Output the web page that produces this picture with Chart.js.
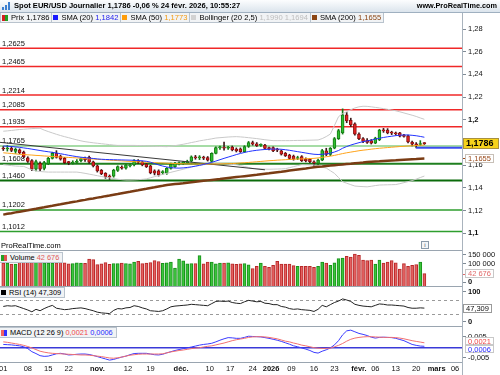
<!DOCTYPE html>
<html><head><meta charset="utf-8">
<script src="https://cdn.jsdelivr.net/npm/chart.js@4.4.1/dist/chart.umd.min.js"></script>
<style>
html,body{margin:0;padding:0;background:#fff;}
body{width:500px;height:375px;position:relative;overflow:hidden;font-family:"Liberation Sans",Arial,sans-serif;color:#000;}
canvas{position:absolute;left:0;display:block;}
#title{position:absolute;left:0;top:0;width:500px;height:12px;background:linear-gradient(#fcfdfe,#dbe4ec);border-bottom:1px solid #9fb0c0;}
#title .t{position:absolute;left:14px;top:1px;font-weight:bold;font-size:7.55px;line-height:10px;white-space:nowrap;}
#title .w{position:absolute;right:3px;top:1px;font-weight:bold;font-size:7.3px;line-height:10px;white-space:nowrap;}
#title .ico{position:absolute;left:2px;top:2px;width:9px;height:8px;}
#title .ico i{position:absolute;bottom:0;width:2px;background:#3b7fd0;}
.leg{position:absolute;left:0;top:13px;height:10px;display:flex;border-left:1px solid #b9c3cd;}
.cell{height:9px;border-bottom:1px solid #b9c3cd;border-right:1px solid #b9c3cd;background:#f1f3f5;font-size:7.6px;line-height:9px;white-space:nowrap;padding:0 2px 0 1px;display:flex;align-items:center;}
.ic{display:inline-block;width:5px;height:5px;margin-right:3px;box-sizing:border-box;}
.ic2{display:inline-flex;width:6px;height:6px;margin-right:3px;}
.ic2 b{display:block;width:3px;height:6px;}
.pl{position:absolute;left:0;height:9px;border:1px solid #b9c3cd;border-left:none;background:#f1f3f5;font-size:7.4px;line-height:9px;white-space:nowrap;padding:0 3px 0 1px;display:flex;align-items:center;}
.sep{position:absolute;left:0;width:462px;height:1px;background:#9aa5b0;}
#vaxis{position:absolute;left:462px;top:13px;width:1px;height:362px;background:#a9b3bd;}
#wm{position:absolute;left:1px;top:241px;font-size:7.5px;line-height:9px;}
#info{position:absolute;left:421px;top:241px;width:6px;height:6px;border:1px solid #8a9aaa;font-size:6px;line-height:6px;text-align:center;color:#456;background:#f4f6f8;}
</style></head>
<body>
<canvas id="cMain" width="500" height="237" style="top:13px"></canvas>
<canvas id="cVol" width="500" height="36" style="top:250px"></canvas>
<canvas id="cRsi" width="500" height="40" style="top:286px"></canvas>
<canvas id="cMacd" width="500" height="49" style="top:326px"></canvas>

<div id="title"><span class="ico"><i style="left:0;height:3px"></i><i style="left:3px;height:5px"></i><i style="left:6px;height:8px"></i></span><span class="t">Spot EUR/USD Journalier 1,1786 -0,06 % 24 févr. 2026, 10:55:27</span><span class="w">www.ProRealTime.com</span></div>
<div class="leg">
 <div class="cell"><span class="ic2"><b style="background:#d42020"></b><b style="background:#22a022"></b></span>Prix 1,1786</div>
 <div class="cell"><span class="ic" style="background:#1a1aff"></span>SMA (20)&nbsp;<span style="color:#2222ee">1,1842</span></div>
 <div class="cell"><span class="ic" style="background:#ff9d0a"></span>SMA (50)&nbsp;<span style="color:#f39a12">1,1773</span></div>
 <div class="cell"><span class="ic" style="background:#d2d2d2"></span>Bollinger (20 2,5)&nbsp;<span style="color:#bdbdbd">1,1990&nbsp;1,1694</span></div>
 <div class="cell"><span class="ic" style="background:#8b4513"></span>SMA (200)&nbsp;<span style="color:#8b4513">1,1655</span></div>
</div>
<div id="wm">ProRealTime.com</div>
<div id="info">i</div>
<div class="sep" style="top:250px"></div>
<div class="sep" style="top:286px"></div>
<div class="sep" style="top:326px"></div>
<div class="sep" style="top:362px"></div>
<div id="vaxis"></div>
<div class="pl" style="top:252px"><span class="ic2"><b style="background:#22a022"></b><b style="background:#e05050"></b></span>Volume&nbsp;<span style="color:#e05a5a">42 676</span></div>
<div class="pl" style="top:287px"><span class="ic" style="background:#000"></span>RSI (14)&nbsp;47,309</div>
<div class="pl" style="top:327px"><span class="ic2"><b style="background:#f06060"></b><b style="background:#3030ff"></b></span>MACD (12 26 9)&nbsp;<span style="color:#f04848">0,0021</span>&nbsp;<span style="color:#2828ff">0,0006</span></div>

<script>
// ---------- DATA ----------
const open = [1.1740,1.1738,1.1745,1.1718,1.1730,1.1712,1.1660,1.1636,1.1560,1.1612,
1.1568,1.1606,1.1656,1.1700,1.1677,1.1656,1.1622,1.1615,1.1620,1.1636,
1.1650,1.1665,1.1625,1.1590,1.1550,1.1525,1.1500,1.1498,1.1550,1.1575,
1.1570,1.1590,1.1598,1.1630,1.1625,1.1605,1.1590,1.1545,1.1545,1.1530,
1.1525,1.1568,1.1583,1.1608,1.1612,1.1618,1.1632,1.1665,1.1660,1.1662,
1.1662,1.1630,1.1700,1.1748,1.1752,1.1745,1.1755,1.1738,1.1740,1.1715,
1.1760,1.1796,1.1785,1.1770,1.1772,1.1745,1.1750,1.1730,1.1722,1.1700,
1.1685,1.1676,1.1655,1.1672,1.1650,1.1647,1.1625,1.1612,1.1641,1.1722,
1.1690,1.1745,1.1830,1.1880,1.2040,1.1990,1.1960,1.1870,1.1830,1.1815,
1.1812,1.1790,1.1820,1.1905,1.1905,1.1885,1.1875,1.1880,1.1862,1.1855,
1.1800,1.1782,1.1778,1.1790];
const high = [1.1760,1.1770,1.1760,1.1748,1.1740,1.1720,1.1670,1.1645,1.1640,1.1625,
1.1630,1.1665,1.1710,1.1724,1.1685,1.1665,1.1630,1.1635,1.1645,1.1660,
1.1668,1.1675,1.1632,1.1598,1.1558,1.1530,1.1510,1.1560,1.1590,1.1590,
1.1605,1.1608,1.1645,1.1645,1.1632,1.1612,1.1595,1.1555,1.1555,1.1548,
1.1575,1.1615,1.1620,1.1625,1.1630,1.1640,1.1678,1.1682,1.1680,1.1675,
1.1672,1.1705,1.1758,1.1765,1.1800,1.1762,1.1765,1.1748,1.1748,1.1768,
1.1805,1.1808,1.1795,1.1785,1.1780,1.1756,1.1758,1.1745,1.1730,1.1708,
1.1692,1.1685,1.1675,1.1680,1.1660,1.1655,1.1635,1.1650,1.1735,1.1745,
1.1752,1.1840,1.1912,1.2092,1.2060,1.2010,1.1970,1.1880,1.1840,1.1830,
1.1822,1.1842,1.1912,1.1920,1.1918,1.1895,1.1888,1.1886,1.1868,1.1860,
1.1808,1.1795,1.1812,1.1795];
const low = [1.1725,1.1720,1.1715,1.1700,1.1695,1.1660,1.1620,1.1548,1.1545,1.1545,
1.1555,1.1600,1.1650,1.1658,1.1640,1.1610,1.1600,1.1605,1.1610,1.1625,
1.1630,1.1612,1.1580,1.1535,1.1512,1.1480,1.1470,1.1490,1.1540,1.1560,
1.1560,1.1580,1.1590,1.1610,1.1590,1.1575,1.1520,1.1510,1.1500,1.1515,
1.1515,1.1560,1.1575,1.1598,1.1600,1.1610,1.1625,1.1648,1.1645,1.1645,
1.1632,1.1625,1.1695,1.1735,1.1728,1.1735,1.1722,1.1712,1.1708,1.1708,
1.1752,1.1772,1.1760,1.1760,1.1738,1.1730,1.1715,1.1715,1.1685,1.1672,
1.1648,1.1640,1.1645,1.1628,1.1625,1.1618,1.1588,1.1600,1.1635,1.1680,
1.1680,1.1740,1.1822,1.1870,1.1970,1.1935,1.1860,1.1820,1.1795,1.1788,
1.1782,1.1785,1.1812,1.1885,1.1872,1.1865,1.1860,1.1845,1.1842,1.1792,
1.1765,1.1748,1.1770,1.1778];
const close = [1.1738,1.1745,1.1725,1.1735,1.1705,1.1671,1.1630,1.1560,1.1627,1.1560,
1.1618,1.1656,1.1700,1.1665,1.1648,1.1618,1.1618,1.1622,1.1630,1.1653,
1.1645,1.1622,1.1590,1.1545,1.1520,1.1495,1.1490,1.1553,1.1583,1.1570,
1.1598,1.1595,1.1636,1.1622,1.1598,1.1583,1.1530,1.1525,1.1512,1.1535,
1.1568,1.1603,1.1612,1.1612,1.1618,1.1625,1.1670,1.1660,1.1663,1.1658,
1.1640,1.1700,1.1750,1.1752,1.1745,1.1750,1.1730,1.1722,1.1715,1.1760,
1.1796,1.1780,1.1768,1.1772,1.1744,1.1742,1.1722,1.1728,1.1692,1.1680,
1.1656,1.1648,1.1660,1.1636,1.1633,1.1627,1.1615,1.1641,1.1725,1.1690,
1.1745,1.1830,1.1900,1.2040,1.1985,1.1950,1.1870,1.1830,1.1805,1.1797,
1.1790,1.1835,1.1905,1.1898,1.1880,1.1878,1.1872,1.1852,1.1850,1.1800,
1.1780,1.1776,1.1785,1.1786];
const sma20 = [1.1765,1.1763,1.1760,1.1757,1.1753,1.1748,1.1743,1.1737,1.1731,1.1725,
1.1719,1.1714,1.1709,1.1703,1.1697,1.1690,1.1683,1.1677,1.1671,1.1666,
1.1662,1.1658,1.1655,1.1651,1.1648,1.1646,1.1645,1.1644,1.1643,1.1642,
1.1641,1.1640,1.1639,1.1637,1.1634,1.1630,1.1622,1.1610,1.1598,1.1588,
1.1580,1.1574,1.1571,1.1570,1.1572,1.1576,1.1581,1.1587,1.1594,1.1602,
1.1611,1.1621,1.1632,1.1644,1.1656,1.1667,1.1678,1.1689,1.1699,1.1708,
1.1716,1.1722,1.1727,1.1731,1.1734,1.1736,1.1738,1.1738,1.1736,1.1732,
1.1727,1.1721,1.1715,1.1709,1.1703,1.1697,1.1692,1.1690,1.1692,1.1695,
1.1701,1.1712,1.1725,1.1745,1.1760,1.1773,1.1784,1.1794,1.1803,1.1810,
1.1817,1.1825,1.1833,1.1840,1.1846,1.1851,1.1856,1.1860,1.1862,1.1862,
1.1859,1.1855,1.1849,1.1842];
const sma50 = [1.1705,1.1702,1.1699,1.1695,1.1692,1.1690,1.1687,1.1685,1.1682,1.1680,
1.1677,1.1675,1.1672,1.1670,1.1668,1.1666,1.1664,1.1662,1.1660,1.1657,
1.1655,1.1652,1.1650,1.1647,1.1645,1.1643,1.1640,1.1638,1.1636,1.1634,
1.1631,1.1629,1.1627,1.1625,1.1623,1.1622,1.1620,1.1618,1.1616,1.1615,
1.1613,1.1612,1.1610,1.1609,1.1608,1.1607,1.1607,1.1606,1.1606,1.1606,
1.1606,1.1606,1.1606,1.1607,1.1608,1.1609,1.1610,1.1612,1.1615,1.1617,
1.1620,1.1623,1.1626,1.1629,1.1632,1.1635,1.1637,1.1640,1.1642,1.1644,
1.1646,1.1648,1.1650,1.1651,1.1653,1.1654,1.1656,1.1660,1.1665,1.1670,
1.1675,1.1682,1.1690,1.1698,1.1705,1.1711,1.1717,1.1723,1.1728,1.1732,
1.1737,1.1741,1.1745,1.1748,1.1751,1.1754,1.1757,1.1760,1.1762,1.1765,
1.1767,1.1769,1.1771,1.1773];
const sma200 = [1.1160,1.1167,1.1173,1.1180,1.1186,1.1193,1.1199,1.1206,1.1212,1.1219,
1.1225,1.1232,1.1238,1.1245,1.1251,1.1258,1.1264,1.1271,1.1277,1.1284,
1.1290,1.1297,1.1303,1.1310,1.1316,1.1323,1.1329,1.1336,1.1342,1.1349,
1.1356,1.1362,1.1369,1.1375,1.1382,1.1388,1.1395,1.1401,1.1408,1.1414,
1.1421,1.1425,1.1429,1.1433,1.1437,1.1442,1.1446,1.1450,1.1454,1.1458,
1.1462,1.1466,1.1470,1.1474,1.1479,1.1483,1.1487,1.1491,1.1495,1.1499,
1.1503,1.1507,1.1511,1.1516,1.1520,1.1524,1.1529,1.1534,1.1538,1.1543,
1.1548,1.1553,1.1558,1.1563,1.1567,1.1572,1.1577,1.1582,1.1585,1.1589,
1.1592,1.1596,1.1599,1.1602,1.1606,1.1609,1.1613,1.1616,1.1619,1.1623,
1.1626,1.1628,1.1630,1.1633,1.1635,1.1637,1.1639,1.1642,1.1644,1.1646,
1.1648,1.1650,1.1653,1.1655];
const bbUpper = [1.1895,1.1898,1.1902,1.1906,1.1910,1.1912,1.1915,1.1918,1.1920,1.1921,
1.1905,1.1892,1.1880,1.1868,1.1857,1.1847,1.1838,1.1828,1.1819,1.1810,
1.1803,1.1798,1.1793,1.1789,1.1785,1.1781,1.1777,1.1773,1.1770,1.1770,
1.1770,1.1770,1.1770,1.1769,1.1768,1.1766,1.1765,1.1763,1.1761,1.1760,
1.1759,1.1763,1.1768,1.1774,1.1780,1.1787,1.1795,1.1802,1.1810,1.1816,
1.1822,1.1828,1.1835,1.1838,1.1841,1.1844,1.1846,1.1847,1.1845,1.1842,
1.1838,1.1834,1.1830,1.1825,1.1820,1.1816,1.1812,1.1812,1.1812,1.1812,
1.1812,1.1813,1.1814,1.1814,1.1815,1.1816,1.1817,1.1818,1.1830,1.1848,
1.1870,1.1945,1.2023,1.2050,1.2067,1.2085,1.2100,1.2110,1.2115,1.2114,
1.2110,1.2105,1.2100,1.2094,1.2088,1.2082,1.2075,1.2066,1.2056,1.2046,
1.2036,1.2025,1.2012,1.2000];
const bbLower = [1.1600,1.1596,1.1592,1.1588,1.1586,1.1585,1.1570,1.1555,1.1545,1.1540,
1.1537,1.1535,1.1535,1.1535,1.1535,1.1535,1.1535,1.1535,1.1535,1.1530,
1.1524,1.1517,1.1510,1.1503,1.1496,1.1490,1.1484,1.1478,1.1472,1.1468,
1.1465,1.1465,1.1466,1.1468,1.1471,1.1475,1.1485,1.1495,1.1505,1.1515,
1.1524,1.1533,1.1542,1.1551,1.1560,1.1569,1.1579,1.1588,1.1597,1.1600,
1.1604,1.1607,1.1609,1.1610,1.1608,1.1605,1.1602,1.1600,1.1592,1.1584,
1.1576,1.1568,1.1565,1.1563,1.1561,1.1560,1.1561,1.1562,1.1563,1.1565,
1.1574,1.1583,1.1592,1.1600,1.1599,1.1598,1.1597,1.1588,1.1579,1.1570,
1.1547,1.1524,1.1487,1.1450,1.1437,1.1424,1.1412,1.1409,1.1407,1.1405,
1.1410,1.1416,1.1421,1.1422,1.1423,1.1424,1.1425,1.1433,1.1442,1.1451,
1.1460,1.1473,1.1487,1.1500];
const volume = [100200,99800,94100,94300,105200,104800,105600,104900,105300,105100,
100400,99700,100100,100300,118200,100500,95200,97100,100300,99900,
98100,121300,118400,91200,95300,102100,92200,97400,96900,100200,
97300,96100,105400,109200,97200,100100,102300,112400,108100,98200,
100300,105500,73200,121100,112300,96200,97300,96400,139300,96100,
105200,105400,95300,100200,99800,100400,95100,92300,95200,97100,
90200,69500,82100,100200,82300,76700,87400,109100,94600,94800,
94500,85600,82200,81900,82300,82100,76700,82000,105500,100200,
87400,100300,123300,126900,136300,132400,148100,141600,116100,112500,
116200,94600,116300,100100,105500,112500,100300,67700,96400,82100,
87400,91000,105500,42676];
const rsi = [52,54,53,54,50,46,42,37,44,40,
46,51,55,47,45,43,44,46,47,48,
46,43,40,36,34,33,32,41,46,45,
48,49,54,52,48,45,40,39,38,40,
45,51,53,54,55,56,58,57,56,55,
54,60,66,67,66,67,63,61,60,65,
69,67,65,66,61,60,57,57,52,50,
46,44,45,43,42,41,38,44,55,51,
57,63,67,73,70,66,58,55,53,52,
51,55,59,58,56,56,55,54,53,49,
47,47,48,47.309];
const macd = [0.0014,0.0013,0.0012,0.0010,0.0008,0.0004,-0.0004,-0.0017,-0.0025,-0.0034,
-0.0037,-0.0036,-0.0031,-0.0026,-0.0024,-0.0027,-0.0031,-0.0030,-0.0028,-0.0027,
-0.0027,-0.0029,-0.0033,-0.0038,-0.0043,-0.0048,-0.0053,-0.0050,-0.0045,-0.0040,
-0.0036,-0.0030,-0.0025,-0.0024,-0.0024,-0.0024,-0.0027,-0.0030,-0.0031,-0.0028,
-0.0022,-0.0017,-0.0012,-0.0008,-0.0004,-0.0001,0.0003,0.0007,0.0011,0.0014,
0.0016,0.0019,0.0025,0.0032,0.0038,0.0043,0.0042,0.0040,0.0040,0.0044,
0.0049,0.0048,0.0047,0.0046,0.0043,0.0040,0.0036,0.0032,0.0027,0.0021,
0.0015,0.0008,0.0004,-0.0001,-0.0006,-0.0012,-0.0020,-0.0023,-0.0015,-0.0009,
-0.0001,0.0012,0.0030,0.0055,0.0072,0.0075,0.0068,0.0061,0.0057,0.0052,
0.0045,0.0041,0.0044,0.0045,0.0044,0.0043,0.0040,0.0035,0.0030,0.0022,
0.0014,0.0010,0.0007,0.0006];
const macdSignal = [0.0025,0.0023,0.0020,0.0017,0.0014,0.0010,0.0005,-0.0001,-0.0008,-0.0015,
-0.0019,-0.0022,-0.0024,-0.0025,-0.0026,-0.0027,-0.0028,-0.0029,-0.0030,-0.0031,
-0.0031,-0.0032,-0.0034,-0.0036,-0.0038,-0.0041,-0.0044,-0.0045,-0.0043,-0.0040,
-0.0036,-0.0032,-0.0030,-0.0028,-0.0027,-0.0027,-0.0027,-0.0027,-0.0027,-0.0026,
-0.0022,-0.0018,-0.0015,-0.0012,-0.0010,-0.0007,-0.0004,-0.0002,0.0000,0.0003,
0.0006,0.0008,0.0012,0.0016,0.0020,0.0025,0.0030,0.0034,0.0037,0.0040,
0.0044,0.0046,0.0047,0.0047,0.0046,0.0044,0.0041,0.0038,0.0033,0.0028,
0.0025,0.0020,0.0016,0.0011,0.0008,0.0004,0.0000,-0.0002,-0.0003,-0.0003,
-0.0002,0.0004,0.0010,0.0018,0.0028,0.0036,0.0041,0.0044,0.0046,0.0047,
0.0047,0.0046,0.0045,0.0044,0.0044,0.0044,0.0043,0.0041,0.0038,0.0034,
0.0030,0.0027,0.0024,0.0021];
const trendLine = [{x:-0.8, y:1.1797},{x:64, y:1.1555}];
const priceLine = {from:101, value:1.1750};
const redLevels = [1.2625,1.2465,1.2214,1.2085,1.1935];
const greenLevels = [1.1765,1.1608,1.1460,1.1202,1.1012];
const priceTicks = [1.10,1.12,1.14,1.16,1.18,1.20,1.22,1.24,1.26,1.28];
const volTicks = [0,100000,150000];
const rsiTicks = [0,100];
const rsiLevels = [70,30];
const macdTicks = [-0.005,0.005];
const xTickLabels = ['01','08','15','22','nov.','12','19','déc.','10','17','24','2026','09','16','23','févr.','06','13','20','mars','06'];
const xTickPos = [0,6,11,16,23,30.5,36,43.5,50.5,55.5,61,65.5,70.5,76,81,87,91,96,101,106,110.5];
const boldXLabels = ['nov.','déc.','2026','févr.','mars'];

// ---------- LAYOUT ----------
const F = '"Liberation Sans", Arial, sans-serif';
const X_MIN = -0.8, X_MAX = 112.2;
const AXIS_W = 38;
const last = close.length - 1;
const pts = arr => arr.map((v,i)=>({x:i,y:v}));

function baseOpts(yMin, yMax, padBottom){
  return {
    responsive:false, animation:false, events:[], devicePixelRatio:1,
    layout:{padding:{left:0,top:0,right:AXIS_W,bottom:padBottom||0}},
    plugins:{legend:{display:false}, tooltip:{enabled:false}},
    scales:{
      x:{type:'linear', min:X_MIN, max:X_MAX, offset:false, display:false},
      y:{type:'linear', min:yMin, max:yMax, display:false}
    }
  };
}
function hline(ctx, a, py, color, w, dash){
  ctx.save(); ctx.strokeStyle=color; ctx.lineWidth=w; if(dash) ctx.setLineDash(dash);
  ctx.beginPath(); ctx.moveTo(a.left, py); ctx.lineTo(a.right, py); ctx.stroke(); ctx.restore();
}
function axisLabels(ticks, fmt, isBold, clamp){
  return {id:'axisLabels', afterDraw(chart){
    const {ctx, chartArea:a, scales:{y}} = chart;
    ctx.save(); ctx.textBaseline='middle'; ctx.textAlign='left';
    ticks.forEach(v=>{
      const py = y.getPixelForValue(v);
      const ty = Math.min(Math.max(py, a.top+clamp), a.bottom-clamp);
      ctx.strokeStyle='#7f8a95'; ctx.lineWidth=1;
      ctx.beginPath(); ctx.moveTo(a.right+1, Math.round(ty)+0.5); ctx.lineTo(a.right+4, Math.round(ty)+0.5); ctx.stroke();
      const s = fmt(v);
      ctx.font = (isBold(s)?'bold ':'')+'7.5px '+F; ctx.fillStyle='#111';
      ctx.fillText(s, a.right+6, ty+0.5);
    });
    ctx.restore();
  }};
}
function drawBox(ctx, a, yc, it){
  ctx.save();
  ctx.font = (it.bold?'bold ':'') + (it.size||7.5) + 'px ' + F;
  const w = it.w || Math.ceil(ctx.measureText(it.text).width) + 6;
  const h = it.h || 9;
  const x0 = a.right + (it.dx===undefined?2:it.dx);
  const top = Math.round(yc - h/2);
  ctx.fillStyle = it.bg; ctx.fillRect(x0, top, w, h);
  ctx.strokeStyle = it.border; ctx.lineWidth=1; ctx.strokeRect(x0+0.5, top+0.5, w-1, h-1);
  if(it.dash){ ctx.strokeStyle=it.dash; ctx.beginPath(); ctx.moveTo(a.right, Math.round(yc)+0.5); ctx.lineTo(x0, Math.round(yc)+0.5); ctx.stroke(); }
  ctx.fillStyle = it.color; ctx.textBaseline='middle'; ctx.textAlign='left';
  ctx.fillText(it.text, x0+3, top + h/2 + 0.5);
  ctx.restore();
}
const fmtP4 = v => v.toFixed(4).replace('.',',');
const fmtP2 = v => String(+v.toFixed(2)).replace('.',',');
const fmtVol = v => String(Math.round(v)).replace(/\B(?=(\d{3})+(?!\d))/g,' ');

// ---------- MAIN PRICE PANEL ----------
const candleUp = '#2fbf2f', candleUpB = '#157a15', candleDn = '#e52222', candleDnB = '#8a1010';
const isUp = i => close[i] >= open[i];
const mainOpts = baseOpts(1.08485, 1.29366);
new Chart(document.getElementById('cMain'), {
  type:'bar',
  data:{datasets:[
    {type:'line', data:pts(bbUpper), borderColor:'#c9c9c9', borderWidth:1, pointRadius:0, order:6},
    {type:'line', data:pts(bbLower), borderColor:'#c9c9c9', borderWidth:1, pointRadius:0, order:6},
    {type:'line', data:trendLine, borderColor:'#3a3a3a', borderWidth:1, pointRadius:0, order:5},
    {type:'line', data:[{x:priceLine.from,y:priceLine.value},{x:X_MAX,y:priceLine.value}], borderColor:'#3b4cf0', borderWidth:2, pointRadius:0, order:5},
    {type:'line', data:pts(sma200), borderColor:'#7a3c14', borderWidth:2.5, pointRadius:0, order:4},
    {type:'line', data:pts(sma50), borderColor:'#ffa31a', borderWidth:1, pointRadius:0, order:3},
    {type:'line', data:pts(sma20), borderColor:'#2233ff', borderWidth:1, pointRadius:0, order:2},
    {type:'bar', data:close.map((c,i)=>({x:i,y:[low[i],high[i]]})),
      backgroundColor:close.map((c,i)=>isUp(i)?candleUpB:'#3a1a1a'), barThickness:1, grouped:false, order:9},
    {type:'bar', data:close.map((c,i)=>({x:i,y:[open[i],c]})),
      backgroundColor:close.map((c,i)=>isUp(i)?candleUp:candleDn),
      borderColor:close.map((c,i)=>isUp(i)?candleUpB:candleDnB),
      borderWidth:1, borderSkipped:false, barThickness:3, minBarLength:1, grouped:false, order:8}
  ]},
  options:mainOpts,
  plugins:[
    {id:'levels', beforeDatasetsDraw(chart){
      const {ctx, chartArea:a, scales:{y}} = chart;
      const gStyle = [['#a6dca6',2],['#1f7f1f',2],['#0b6b0b',2],['#2e9e2e',1.5],['#2e9e2e',1.5]];
      redLevels.forEach(v=>hline(ctx,a,y.getPixelForValue(v),'#f02828',1.5));
      greenLevels.forEach((v,k)=>hline(ctx,a,y.getPixelForValue(v),gStyle[k][0],gStyle[k][1]));
      ctx.save(); ctx.font='7.5px '+F; ctx.fillStyle='#111'; ctx.textBaseline='alphabetic';
      redLevels.concat(greenLevels).forEach(v=>ctx.fillText(fmtP4(v), 2, y.getPixelForValue(v)-2.5));
      ctx.restore();
    }},
    axisLabels(priceTicks, fmtP2, s=>s.length<=3, 5),
    {id:'boxes', afterDraw(chart){
      const {ctx, chartArea:a, scales:{y}} = chart;
      drawBox(ctx,a,y.getPixelForValue(sma200[last]),{text:fmtP4(sma200[last]),color:'#9a4a1a',bg:'#fff',border:'#c8c0b8',dash:'#9a4a1a',dx:3,h:9});
      drawBox(ctx,a,y.getPixelForValue(close[last]),{text:fmtP4(close[last]),bold:true,size:9,color:'#000',bg:'#f6d21a',border:'#a89040',dx:1,w:36,h:11});
    }}
  ]
});

// ---------- VOLUME PANEL ----------
const volMin = -23650, volMax = 169880;
new Chart(document.getElementById('cVol'), {
  type:'bar',
  data:{datasets:[{
    data:pts(volume), base:volMin, barThickness:3, grouped:false,
    backgroundColor:close.map((c,i)=>isUp(i)?'#3cc43c':'#e46060'),
    borderColor:close.map((c,i)=>isUp(i)?'#17921a':'#b82828'),
    borderWidth:{left:1,right:1,top:1,bottom:0}, borderSkipped:false
  }]},
  options:baseOpts(volMin, volMax),
  plugins:[
    axisLabels(volTicks, fmtVol, s=>s==='0', 4),
    {id:'vbox', afterDraw(chart){
      const {ctx, chartArea:a, scales:{y}} = chart;
      drawBox(ctx,a,y.getPixelForValue(volume[last]),{text:fmtVol(volume[last]),color:'#e06a6a',bg:'#fff',border:'#c8c8c8',dash:'#e06a6a',dx:3,h:9});
    }}
  ]
});

// ---------- RSI PANEL ----------
new Chart(document.getElementById('cRsi'), {
  type:'line',
  data:{datasets:[{data:pts(rsi), borderColor:'#222', borderWidth:1, pointRadius:0}]},
  options:baseOpts(-2.73, 109.2),
  plugins:[
    {id:'rsiLv', beforeDatasetsDraw(chart){
      const {ctx, chartArea:a, scales:{y}} = chart;
      rsiLevels.forEach(v=>hline(ctx,a,Math.round(y.getPixelForValue(v))+0.5,'#9a9a9a',1,[3,3]));
    }},
    axisLabels(rsiTicks, v=>String(v), s=>true, 5),
    {id:'rbox', afterDraw(chart){
      const {ctx, chartArea:a, scales:{y}} = chart;
      drawBox(ctx,a,y.getPixelForValue(rsi[last]),{text:rsi[last].toFixed(3).replace('.',','),color:'#111',bg:'#fff',border:'#9a9a9a',dash:'#555',dx:1,h:9});
    }}
  ]
});

// ---------- MACD PANEL + X AXIS ----------
new Chart(document.getElementById('cMacd'), {
  type:'line',
  data:{datasets:[
    {data:pts(macdSignal), borderColor:'#f27070', borderWidth:1, pointRadius:0},
    {data:pts(macd), borderColor:'#3a3aff', borderWidth:1, pointRadius:0}
  ]},
  options:baseOpts(-0.006111, 0.009274, 13),
  plugins:[
    {id:'zero', beforeDatasetsDraw(chart){
      const {ctx, chartArea:a, scales:{y}} = chart;
      hline(ctx,a,y.getPixelForValue(0),'#3a3ad8',1.5);
    }},
    axisLabels(macdTicks, v=>v.toFixed(3).replace('.',','), s=>false, 5),
    {id:'mbox', afterDraw(chart){
      const {ctx, chartArea:a, scales:{x,y}} = chart;
      let c1 = y.getPixelForValue(macdSignal[last]), c2 = y.getPixelForValue(macd[last]);
      if (c2 - c1 < 8) { const m=(c1+c2)/2; c1=m-4; c2=m+4; }
      drawBox(ctx,a,c1,{text:fmtP4(macdSignal[last]),color:'#f04848',bg:'#fff',border:'#c8c8c8',dx:3,h:8});
      drawBox(ctx,a,c2,{text:fmtP4(macd[last]),color:'#2828ff',bg:'#fff',border:'#c8c8c8',dx:3,h:8});
      ctx.save(); ctx.textAlign='center'; ctx.textBaseline='middle'; ctx.fillStyle='#111';
      xTickPos.forEach((p,k)=>{
        const s = xTickLabels[k];
        ctx.font = (boldXLabels.includes(s)?'bold ':'') + '7.5px ' + F;
        ctx.fillText(s, x.getPixelForValue(p), a.bottom + 6.8);
      });
      ctx.restore();
    }}
  ]
});
</script>
</body></html>
